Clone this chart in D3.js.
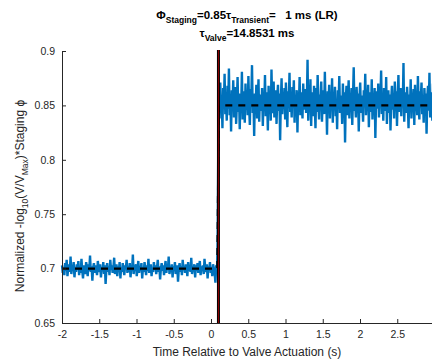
<!DOCTYPE html>
<html>
<head>
<meta charset="utf-8">
<script src="https://cdn.jsdelivr.net/npm/d3@7"></script>
<style>
  body { margin: 0; background: #fff; }
  svg { display: block; font-family: "Liberation Sans", Arial, sans-serif; }
</style>
</head>
<body>
<svg id="chart" width="432" height="361"></svg>
<script>
// signal before valve actuation (samples from -2 s to 0.08 s)
var preStart = -2, preEnd = 0.08;
var preValues = [
  0.703,0.696,0.701,0.694,0.705,0.698,0.708,0.693,0.700,0.704,0.697,0.711,0.695,0.702,0.699,0.706,0.692,0.701,0.697,0.704,
  0.699,0.707,0.694,0.702,0.696,0.709,0.698,0.691,0.703,0.700,0.695,0.706,0.701,0.693,0.704,0.698,0.712,0.697,0.702,0.689,
  0.701,0.705,0.696,0.703,0.699,0.694,0.707,0.700,0.697,0.704,0.692,0.701,0.698,0.706,0.695,0.703,0.686,0.700,0.705,0.697,
  0.702,0.694,0.708,0.699,0.703,0.696,0.701,0.710,0.695,0.700,0.704,0.693,0.702,0.698,0.706,0.691,0.701,0.697,0.705,0.699,
  0.694,0.703,0.700,0.708,0.696,0.702,0.697,0.705,0.692,0.701,0.699,0.713,0.695,0.703,0.698,0.704,0.693,0.700,0.707,0.696,
  0.702,0.699,0.705,0.691,0.701,0.697,0.706,0.700,0.694,0.703,0.698,0.709,0.696,0.701,0.704,0.693,0.700,0.697,0.706,0.699,
  0.703,0.695,0.701,0.708,0.697,0.702,0.690,0.700,0.705,0.698,0.703,0.694,0.701,0.707,0.696,0.702,0.699,0.711,0.695,0.700,
  0.697,0.704,0.692,0.702,0.699,0.706,0.695,0.701,0.703,0.688,0.700,0.705,0.697,0.702,0.694,0.708,0.699,0.701,0.696,0.704,
  0.700,0.693,0.706,0.698,0.702,0.697,0.710,0.695,0.701,0.699,0.704,0.692,0.703,0.698,0.705,0.696,0.701,0.707,0.694,0.702,
  0.698,0.703,0.695,0.709,0.700,0.697,0.704,0.691,0.702,0.699,0.706,0.696,0.701,0.693,0.704,0.700,0.697,0.687,0.703,0.699
];

// rise during actuation
var riseTimes  = [0.083, 0.087, 0.091, 0.094, 0.097, 0.100, 0.103];
var riseValues = [0.705, 0.718, 0.742, 0.771, 0.803, 0.829, 0.846];

// signal after actuation (samples from 0.105 s to 3.0 s)
var postStart = 0.105, postEnd = 3.0;
var postValues = [
  0.862,0.838,0.871,0.845,0.857,0.829,0.866,0.851,0.879,0.842,0.855,0.836,0.868,0.847,0.884,0.841,0.859,0.826,0.864,0.849,
  0.873,0.839,0.856,0.867,0.833,0.852,0.876,0.844,0.861,0.828,0.858,0.848,0.881,0.837,0.863,0.853,0.834,0.870,0.846,0.859,
  0.841,0.877,0.849,0.832,0.865,0.855,0.887,0.843,0.857,0.822,0.861,0.847,0.869,0.838,0.854,0.874,0.835,0.860,0.851,0.845,
  0.866,0.831,0.858,0.848,0.878,0.840,0.862,0.853,0.827,0.868,0.846,0.860,0.836,0.883,0.850,0.843,0.872,0.839,0.856,0.864,
  0.833,0.857,0.869,0.845,0.861,0.818,0.854,0.875,0.842,0.859,0.850,0.866,0.837,0.871,0.848,0.830,0.863,0.855,0.880,0.844,
  0.858,0.839,0.867,0.852,0.873,0.834,0.856,0.847,0.864,0.825,0.860,0.849,0.876,0.841,0.862,0.853,0.838,0.870,0.846,0.857,
  0.865,0.843,0.851,0.892,0.836,0.859,0.848,0.874,0.831,0.862,0.855,0.840,0.868,0.850,0.829,0.866,0.844,0.878,0.853,0.837,
  0.860,0.849,0.872,0.835,0.857,0.864,0.842,0.881,0.847,0.855,0.823,0.863,0.851,0.869,0.838,0.858,0.846,0.875,0.834,0.861,
  0.852,0.867,0.840,0.856,0.828,0.864,0.849,0.877,0.843,0.859,0.854,0.833,0.870,0.846,0.862,0.816,0.855,0.868,0.841,0.857,
  0.873,0.838,0.860,0.850,0.866,0.832,0.858,0.885,0.845,0.853,0.839,0.867,0.848,0.861,0.826,0.856,0.871,0.843,0.859,0.851,
  0.835,0.864,0.852,0.879,0.841,0.857,0.848,0.869,0.830,0.862,0.855,0.844,0.874,0.837,0.859,0.850,0.866,0.820,0.856,0.863,
  0.847,0.870,0.839,0.858,0.853,0.882,0.842,0.861,0.836,0.866,0.851,0.845,0.876,0.833,0.857,0.864,0.843,0.860,0.827,0.855,
  0.868,0.846,0.859,0.838,0.872,0.850,0.863,0.831,0.857,0.878,0.844,0.854,0.866,0.840,0.861,0.849,0.889,0.835,0.856,0.862,
  0.843,0.867,0.852,0.829,0.860,0.846,0.874,0.838,0.858,0.853,0.865,0.832,0.869,0.848,0.856,0.841,0.877,0.851,0.837,0.863,
  0.855,0.871,0.842,0.859,0.834,0.866,0.848,0.861,0.824,0.857,0.868,0.845,0.880,0.839,0.854,0.862,0.836,0.870,0.850,0.858
];

// step model (dashed) and valve time
var modelTimes  = [-2, 0.085, 0.105, 3];
var modelValues = [0.7, 0.7, 0.85, 0.85];
var valveTime = 0.1;

var xTicks = [-2, -1.5, -1, -0.5, 0, 0.5, 1, 1.5, 2, 2.5, 3];
var yTicks = [0.65, 0.7, 0.75, 0.8, 0.85, 0.9];

var ink = '#262626';
var blue = '#0072BD';

var svg = d3.select('#chart');
var x = d3.scaleLinear().domain([-2, 3]).range([62, 434.5]);
var y = d3.scaleLinear().domain([0.65, 0.9]).range([323, 51]);

function sampled (vals, t0, t1) {
  var step = (t1 - t0) / (vals.length - 1);
  return vals.map(function (v, i) { return [t0 + i * step, v]; });
}

var signal = sampled(preValues, preStart, preEnd)
  .concat(riseTimes.map(function (t, i) { return [t, riseValues[i]]; }))
  .concat(sampled(postValues, postStart, postEnd));

var line = d3.line()
  .x(function (d) { return x(d[0]); })
  .y(function (d) { return y(d[1]); });

svg.append('path')
  .datum(signal)
  .attr('d', line)
  .attr('fill', 'none')
  .attr('stroke', blue)
  .attr('stroke-width', 2.4)
  .attr('stroke-linejoin', 'bevel');

svg.append('path')
  .datum(modelTimes.map(function (t, i) { return [t, modelValues[i]]; }))
  .attr('d', line)
  .attr('fill', 'none')
  .attr('stroke', '#000')
  .attr('stroke-width', 2.2)
  .attr('stroke-dasharray', '7,6');

// valve actuation line
svg.append('line')
  .attr('x1', x(valveTime)).attr('x2', x(valveTime))
  .attr('y1', y(0.9) - 1).attr('y2', y(0.65))
  .attr('stroke', '#000').attr('stroke-width', 3);
svg.append('line')
  .attr('x1', x(valveTime)).attr('x2', x(valveTime))
  .attr('y1', y(0.9) - 1).attr('y2', y(0.65))
  .attr('stroke', '#d00000').attr('stroke-width', 0.7);

// axes
var xAxis = d3.axisBottom(x).tickValues(xTicks).tickSize(-4).tickPadding(8)
  .tickFormat(function (d) { return d; });
var yAxis = d3.axisLeft(y).tickValues(yTicks).tickSize(-4).tickPadding(7)
  .tickFormat(function (d) { return d; });

var gx = svg.append('g').attr('transform', 'translate(0,' + y(0.65) + ')').call(xAxis);
var gy = svg.append('g').attr('transform', 'translate(' + x(-2) + ',0)').call(yAxis);
[gx, gy].forEach(function (g) {
  g.select('.domain').attr('stroke', ink).attr('stroke-width', 1);
  g.selectAll('.tick line').attr('stroke', ink);
  g.selectAll('.tick text').attr('fill', ink).style('font-size', '10.5px')
    .style('font-family', '"Liberation Sans", Arial, sans-serif');
});

// labels
svg.append('text')
  .attr('x', 247).attr('y', 356)
  .attr('text-anchor', 'middle')
  .attr('fill', ink)
  .style('font-size', '12px')
  .text('Time Relative to Valve Actuation (s)');

var yl = svg.append('text')
  .attr('transform', 'translate(24,196) rotate(-90)')
  .attr('text-anchor', 'middle')
  .attr('fill', ink)
  .style('font-size', '12px');
yl.append('tspan').text('Normalized -log');
yl.append('tspan').attr('dy', 4).style('font-size', '8.5px').text('10');
yl.append('tspan').attr('dy', -4).text('(V/V');
yl.append('tspan').attr('dy', 4).style('font-size', '8.5px').text('Max');
yl.append('tspan').attr('dy', -4).text(')*Staging \u03d5');

// title
var t1 = svg.append('text')
  .attr('x', 247).attr('y', 19)
  .attr('text-anchor', 'middle')
  .attr('fill', '#000')
  .style('font-weight', 'bold')
  .style('font-size', '11.5px');
t1.append('tspan').text('\u03a6');
t1.append('tspan').attr('dy', 4).style('font-size', '8.5px').text('Staging');
t1.append('tspan').attr('dy', -4).text('=0.85\u03c4');
t1.append('tspan').attr('dy', 4).style('font-size', '8.5px').text('Transient');
t1.append('tspan').attr('dy', -4).text('=\u00a0\u00a0\u00a01 ms (LR)');

var t2 = svg.append('text')
  .attr('x', 247).attr('y', 37)
  .attr('text-anchor', 'middle')
  .attr('fill', '#000')
  .style('font-weight', 'bold')
  .style('font-size', '11.5px');
t2.append('tspan').text('\u03c4');
t2.append('tspan').attr('dy', 4).style('font-size', '8.5px').text('Valve');
t2.append('tspan').attr('dy', -4).text('=14.8531 ms');
</script>
</body>
</html>
